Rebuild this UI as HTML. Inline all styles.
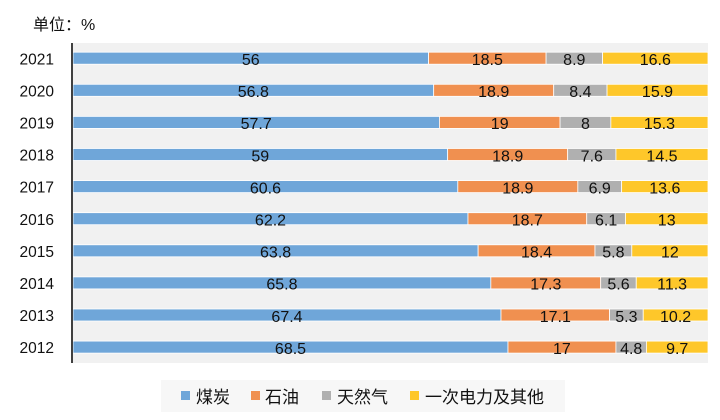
<!DOCTYPE html>
<html><head><meta charset="utf-8"><style>
html,body{margin:0;padding:0;background:#fff;}
svg{display:block;}
.v{font-family:"Liberation Sans","Noto Sans CJK SC",sans-serif;font-size:16px;fill:#111;text-anchor:middle;}
.y{font-family:"Liberation Sans",sans-serif;font-size:15.5px;fill:#111;text-anchor:end;}
.l{font-family:"Liberation Sans","Noto Sans CJK SC",sans-serif;font-size:17px;fill:#111;}
</style></head><body>
<svg width="720" height="420" viewBox="0 0 720 420" xmlns="http://www.w3.org/2000/svg">
<rect x="0" y="0" width="720" height="420" fill="#fff"/>
<text x="33" y="30" class="l" style="font-size:16px">单位：%</text>
<rect x="72" y="43" width="636" height="320" fill="#f1f1f1"/>
<g stroke="#fff" stroke-width="0.8">
<!-- 2021 -->
<rect x="73" y="52.2" width="355.6" height="12" fill="#6fa6d9"/>
<rect x="428.6" y="52.2" width="117.48" height="12" fill="#f09050"/>
<rect x="546.08" y="52.2" width="56.51" height="12" fill="#b0b0b0"/>
<rect x="602.59" y="52.2" width="105.41" height="12" fill="#fec72a"/>
<!-- 2020 -->
<rect x="73" y="84.3" width="360.68" height="12" fill="#6fa6d9"/>
<rect x="433.68" y="84.3" width="120.02" height="12" fill="#f09050"/>
<rect x="553.7" y="84.3" width="53.34" height="12" fill="#b0b0b0"/>
<rect x="607.04" y="84.3" width="100.96" height="12" fill="#fec72a"/>
<!-- 2019 -->
<rect x="73" y="116.4" width="366.4" height="12" fill="#6fa6d9"/>
<rect x="439.4" y="116.4" width="120.65" height="12" fill="#f09050"/>
<rect x="560.05" y="116.4" width="50.8" height="12" fill="#b0b0b0"/>
<rect x="610.85" y="116.4" width="97.15" height="12" fill="#fec72a"/>
<!-- 2018 -->
<rect x="73" y="148.5" width="374.65" height="12" fill="#6fa6d9"/>
<rect x="447.65" y="148.5" width="120.02" height="12" fill="#f09050"/>
<rect x="567.67" y="148.5" width="48.26" height="12" fill="#b0b0b0"/>
<rect x="615.93" y="148.5" width="92.07" height="12" fill="#fec72a"/>
<!-- 2017 -->
<rect x="73" y="180.6" width="384.81" height="12" fill="#6fa6d9"/>
<rect x="457.81" y="180.6" width="120.02" height="12" fill="#f09050"/>
<rect x="577.83" y="180.6" width="43.81" height="12" fill="#b0b0b0"/>
<rect x="621.64" y="180.6" width="86.36" height="12" fill="#fec72a"/>
<!-- 2016 -->
<rect x="73" y="212.7" width="394.97" height="12" fill="#6fa6d9"/>
<rect x="467.97" y="212.7" width="118.75" height="12" fill="#f09050"/>
<rect x="586.72" y="212.7" width="38.73" height="12" fill="#b0b0b0"/>
<rect x="625.45" y="212.7" width="82.55" height="12" fill="#fec72a"/>
<!-- 2015 -->
<rect x="73" y="244.8" width="405.13" height="12" fill="#6fa6d9"/>
<rect x="478.13" y="244.8" width="116.84" height="12" fill="#f09050"/>
<rect x="594.97" y="244.8" width="36.83" height="12" fill="#b0b0b0"/>
<rect x="631.8" y="244.8" width="76.2" height="12" fill="#fec72a"/>
<!-- 2014 -->
<rect x="73" y="276.9" width="417.83" height="12" fill="#6fa6d9"/>
<rect x="490.83" y="276.9" width="109.86" height="12" fill="#f09050"/>
<rect x="600.69" y="276.9" width="35.56" height="12" fill="#b0b0b0"/>
<rect x="636.25" y="276.9" width="71.75" height="12" fill="#fec72a"/>
<!-- 2013 -->
<rect x="73" y="309" width="427.99" height="12" fill="#6fa6d9"/>
<rect x="500.99" y="309" width="108.59" height="12" fill="#f09050"/>
<rect x="609.58" y="309" width="33.65" height="12" fill="#b0b0b0"/>
<rect x="643.23" y="309" width="64.77" height="12" fill="#fec72a"/>
<!-- 2012 -->
<rect x="73" y="341.1" width="434.98" height="12" fill="#6fa6d9"/>
<rect x="507.98" y="341.1" width="107.95" height="12" fill="#f09050"/>
<rect x="615.93" y="341.1" width="30.48" height="12" fill="#b0b0b0"/>
<rect x="646.41" y="341.1" width="61.59" height="12" fill="#fec72a"/>
</g>
<line x1="72" y1="43" x2="72" y2="363" stroke="#404040" stroke-width="2"/>
<!-- year labels -->
<text class="y" x="54" y="64.3">2021</text>
<text class="y" x="54" y="96.4">2020</text>
<text class="y" x="54" y="128.5">2019</text>
<text class="y" x="54" y="160.6">2018</text>
<text class="y" x="54" y="192.7">2017</text>
<text class="y" x="54" y="224.8">2016</text>
<text class="y" x="54" y="256.9">2015</text>
<text class="y" x="54" y="289">2014</text>
<text class="y" x="54" y="321.1">2013</text>
<text class="y" x="54" y="353.2">2012</text>
<!-- value labels -->
<g class="v">
<text x="250.8" y="65">56</text><text x="487.3" y="65">18.5</text><text x="574.3" y="65">8.9</text><text x="655.3" y="65">16.6</text>
<text x="253.3" y="97.1">56.8</text><text x="493.7" y="97.1">18.9</text><text x="580.4" y="97.1">8.4</text><text x="657.5" y="97.1">15.9</text>
<text x="256.2" y="129.2">57.7</text><text x="499.7" y="129.2">19</text><text x="585.4" y="129.2">8</text><text x="659.4" y="129.2">15.3</text>
<text x="260.3" y="161.3">59</text><text x="507.7" y="161.3">18.9</text><text x="591.8" y="161.3">7.6</text><text x="662" y="161.3">14.5</text>
<text x="265.4" y="193.4">60.6</text><text x="517.8" y="193.4">18.9</text><text x="599.7" y="193.4">6.9</text><text x="664.8" y="193.4">13.6</text>
<text x="270.5" y="225.5">62.2</text><text x="527.3" y="225.5">18.7</text><text x="606.1" y="225.5">6.1</text><text x="666.7" y="225.5">13</text>
<text x="275.6" y="257.6">63.8</text><text x="536.6" y="257.6">18.4</text><text x="613.4" y="257.6">5.8</text><text x="669.9" y="257.6">12</text>
<text x="281.9" y="289.7">65.8</text><text x="545.8" y="289.7">17.3</text><text x="618.5" y="289.7">5.6</text><text x="672.1" y="289.7">11.3</text>
<text x="287" y="321.8">67.4</text><text x="555.3" y="321.8">17.1</text><text x="626.4" y="321.8">5.3</text><text x="675.6" y="321.8">10.2</text>
<text x="290.5" y="353.9">68.5</text><text x="561.9" y="353.9">17</text><text x="631.2" y="353.9">4.8</text><text x="677.2" y="353.9">9.7</text>
</g>
<!-- legend -->
<rect x="161" y="380" width="404" height="32" fill="#f7f7f7"/>
<rect x="181" y="391" width="9" height="9" fill="#6fa6d9"/>
<text class="l" x="196" y="403">煤炭</text>
<rect x="251" y="391" width="9" height="9" fill="#f09050"/>
<text class="l" x="265" y="403">石油</text>
<rect x="322" y="391" width="9" height="9" fill="#b0b0b0"/>
<text class="l" x="337" y="403">天然气</text>
<rect x="410" y="391" width="9" height="9" fill="#fec72a"/>
<text class="l" x="425" y="403">一次电力及其他</text>
</svg>
</body></html>
